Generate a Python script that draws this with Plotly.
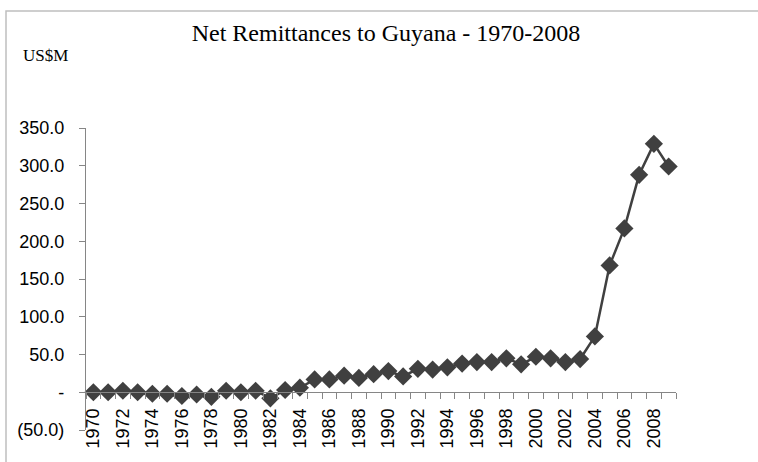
import plotly.graph_objects as go

# Net remittances to Guyana, US$ millions
years = list(range(1970, 2010))
remittances = [
    0, 0, 2, 0, -2, -2, -5, -3, -6, 2,
    0, 2, -8, 3, 6, 17, 17, 22, 19, 24,
    28, 21, 31, 30, 33, 38, 40, 40, 45, 37,
    47, 45, 40, 44, 74, 168, 217, 288, 329, 299,
]

x_tick_years = list(range(1970, 2009, 2))
x_tick_labels = [str(y) for y in x_tick_years]
y_tick_values = [-50, 0, 50, 100, 150, 200, 250, 300, 350]
y_tick_labels = ["(50.0)", "-", "50.0", "100.0", "150.0", "200.0", "250.0", "300.0", "350.0"]

W, H = 758, 462
L, R, T, B = 86, 82, 128, 32
plot_w = W - L - R
plot_h = H - T - B
y_min, y_max = -50, 350

def px_to_paper_x(px):
    return (px - L) / plot_w

def px_to_paper_y(py):
    return (H - B - py) / plot_h

series_color = "#404040"
axis_color = "#868686"
tick_font = dict(family="Liberation Sans, Arial, sans-serif", size=18, color="#000000")
serif = "Liberation Serif, Times New Roman, serif"

fig = go.Figure()
fig.add_trace(go.Scatter(
    x=years,
    y=remittances,
    mode="lines+markers",
    line=dict(color=series_color, width=2.5),
    marker=dict(symbol="diamond", size=14, color=series_color),
    showlegend=False,
    cliponaxis=False,
))

fig.update_layout(
    width=W,
    height=H,
    margin=dict(l=L, r=R, t=T, b=B, pad=0),
    paper_bgcolor="white",
    plot_bgcolor="white",
    title=dict(
        text="Net Remittances to Guyana - 1970-2008",
        font=dict(family=serif, size=24, color="#000000"),
        x=386 / W,
        xanchor="center",
        xref="container",
        y=1 - 33 / H,
        yanchor="middle",
        yref="container",
    ),
    xaxis=dict(
        range=[1969.5, 2009.5],
        anchor="free",
        position=(0 - y_min) / (y_max - y_min),
        showline=True,
        linecolor=axis_color,
        linewidth=1.2,
        showgrid=False,
        zeroline=False,
        tickmode="array",
        tickvals=x_tick_years,
        ticktext=x_tick_labels,
        ticks="",
        tickangle=-90,
        tickfont=tick_font,
        ticklabelstandoff=8,
        minor=dict(
            tickmode="linear",
            tick0=1969.5,
            dtick=1,
            ticks="outside",
            ticklen=6,
            tickcolor=axis_color,
            tickwidth=1.2,
            showgrid=False,
        ),
    ),
    yaxis=dict(
        range=[y_min, y_max],
        showline=True,
        linecolor=axis_color,
        linewidth=1.2,
        showgrid=False,
        zeroline=False,
        tickmode="array",
        tickvals=y_tick_values,
        ticktext=y_tick_labels,
        ticks="outside",
        ticklen=6,
        tickcolor=axis_color,
        tickwidth=1.2,
        tickfont=tick_font,
        ticklabelstandoff=11,
    ),
    annotations=[
        dict(
            text="US$M",
            xref="paper",
            yref="paper",
            x=px_to_paper_x(21),
            y=px_to_paper_y(55),
            xanchor="left",
            yanchor="middle",
            showarrow=False,
            font=dict(family=serif, size=17, color="#000000"),
        )
    ],
    shapes=[
        # chart frame (its right and bottom edges fall outside the page)
        dict(
            type="rect",
            xref="paper",
            yref="paper",
            x0=px_to_paper_x(6),
            y0=px_to_paper_y(H + 20),
            x1=px_to_paper_x(W + 20),
            y1=px_to_paper_y(11),
            line=dict(color="#BFBFBF", width=1.5),
            fillcolor="rgba(0,0,0,0)",
            layer="below",
        )
    ],
)

fig.write_html("out.html")
